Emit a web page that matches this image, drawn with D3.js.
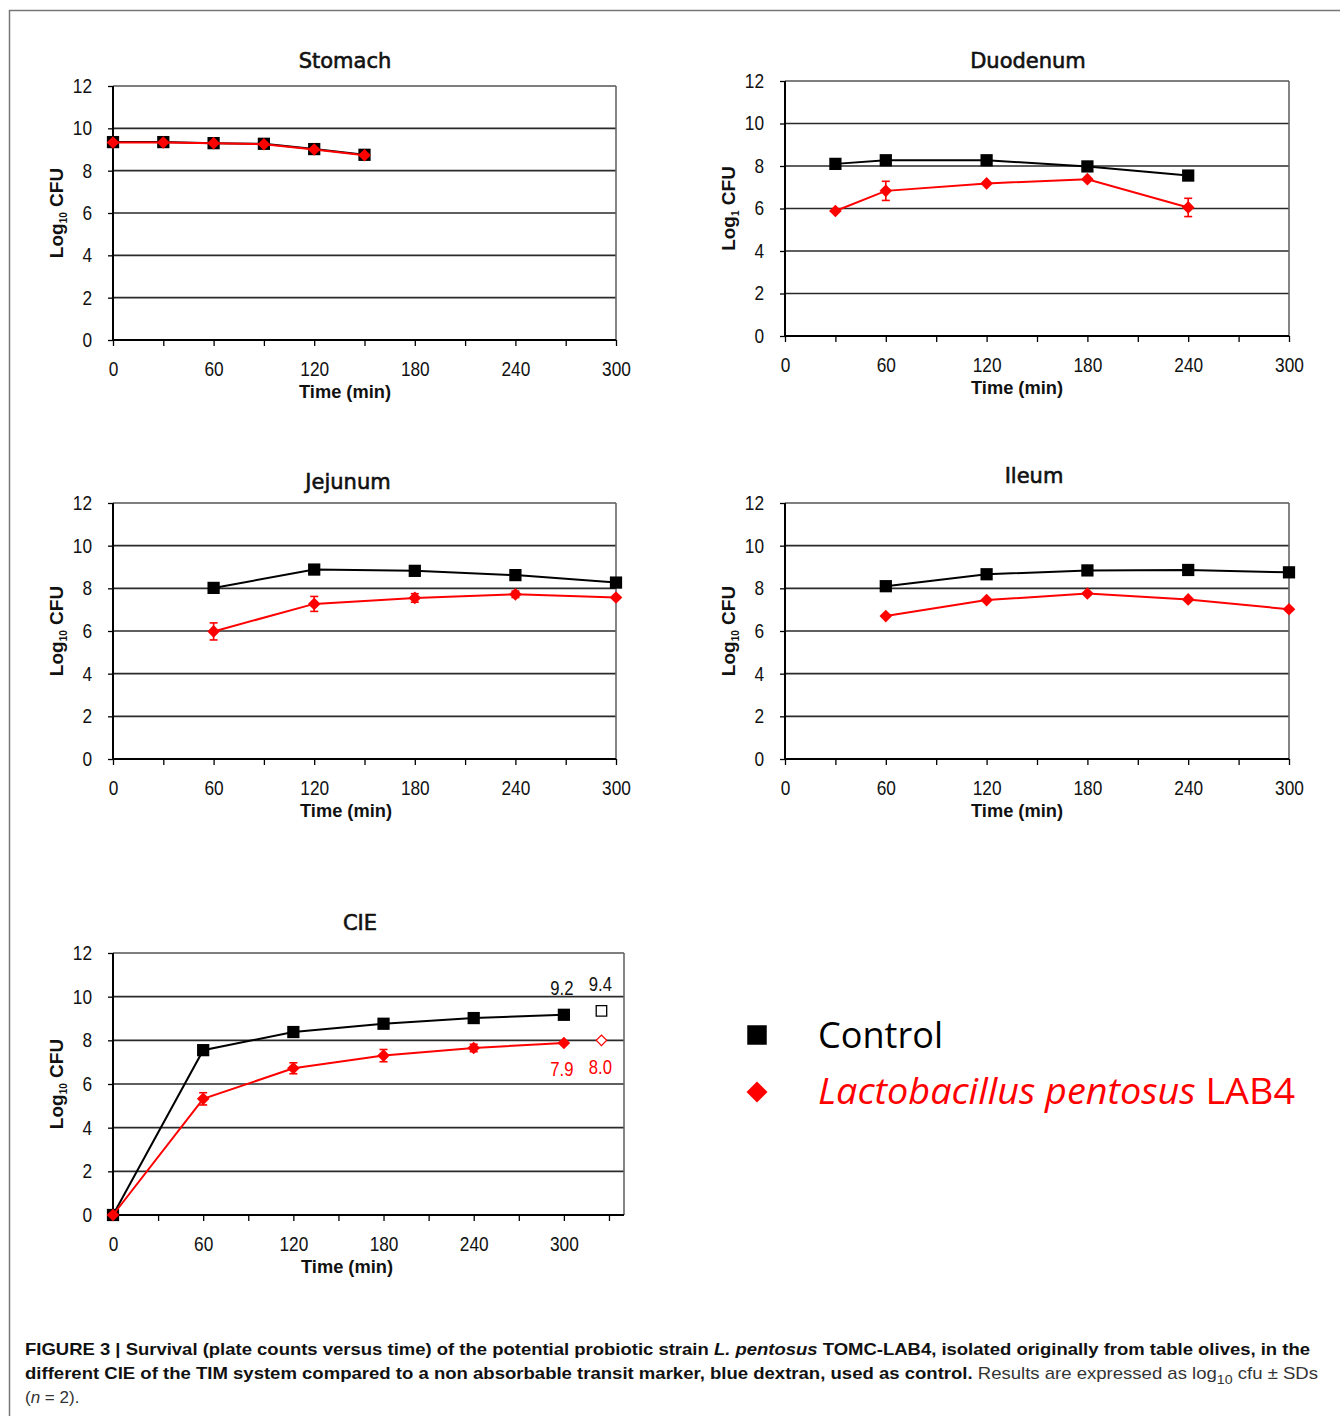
<!DOCTYPE html>
<html>
<head>
<meta charset="utf-8">
<script src="https://cdn.jsdelivr.net/npm/d3@7"></script>
<style>
  body { margin: 0; background: #fff; }
  svg { display: block; }
</style>
</head>
<body>
<script>
// values (log10 CFU vs time in min)
const stomachTime = [0, 30, 60, 90, 120, 150];
const stomachControl = [9.35, 9.35, 9.3, 9.27, 9.02, 8.75];
const stomachLab4 = [9.33, 9.33, 9.3, 9.25, 9.0, 8.73];
const stomachLab4Sd = [0.05, 0.05, 0.05, 0.05, 0.05, 0.05];

const duodenumTime = [30, 60, 120, 180, 240];
const duodenumControl = [8.1, 8.27, 8.27, 7.98, 7.55];
const duodenumLab4 = [5.88, 6.83, 7.18, 7.38, 6.05];
const duodenumLab4Sd = [0.05, 0.45, 0.08, 0.12, 0.43];

const jejunumTime = [60, 120, 180, 240, 300];
const jejunumControl = [8.02, 8.88, 8.82, 8.62, 8.27];
const jejunumLab4 = [5.98, 7.27, 7.55, 7.72, 7.57];
const jejunumLab4Sd = [0.4, 0.35, 0.2, 0.15, 0.05];

const ileumTime = [60, 120, 180, 240, 300];
const ileumControl = [8.1, 8.66, 8.84, 8.86, 8.75];
const ileumLab4 = [6.7, 7.45, 7.76, 7.48, 7.02];
const ileumLab4Sd = [0.05, 0.05, 0.08, 0.05, 0.05];

const cieTime = [0, 60, 120, 180, 240, 300];
const cieControl = [0, 7.55, 8.38, 8.76, 9.02, 9.17];
const cieLab4 = [0, 5.32, 6.72, 7.3, 7.65, 7.88];
const cieLab4Sd = [0, 0.28, 0.25, 0.28, 0.17, 0.1];

// final hollow points + printed values in CIE panel
const cieEndTime = 325;
const cieEndControl = 9.35;
const cieEndLab4 = 8.0;
const cieLabelsControl = ['9.2', '9.4'];
const cieLabelsLab4 = ['7.9', '8.0'];

const yTicks = [0, 2, 4, 6, 8, 10, 12];

const red = '#ff0000';
const sans = "'Liberation Sans', Arial, sans-serif";

const W = 1340, H = 1416;

const svg = d3.select('body').append('svg')
    .attr('width', W)
    .attr('height', H);

// outer frame (top + left edge visible)
svg.append('path')
    .attr('d', `M9.5,${H} V10.5 H${W}`)
    .attr('fill', 'none')
    .attr('stroke', '#777')
    .attr('stroke-width', 1.5);

const panels = [
    {title: 'Stomach', titleX: 345, titleY: 68, sub: '10', timeX: 345,
        left: 113, right: 616, top: 86, bottom: 340, xMax: 300,
        time: stomachTime, control: stomachControl, lab4: stomachLab4, sd: stomachLab4Sd},
    {title: 'Duodenum', titleX: 1028, titleY: 68, sub: '1', timeX: 1017,
        left: 785, right: 1289, top: 81, bottom: 336, xMax: 300,
        time: duodenumTime, control: duodenumControl, lab4: duodenumLab4, sd: duodenumLab4Sd},
    {title: 'Jejunum', titleX: 348, titleY: 489, sub: '10', timeX: 346,
        left: 113, right: 616, top: 503, bottom: 759, xMax: 300,
        time: jejunumTime, control: jejunumControl, lab4: jejunumLab4, sd: jejunumLab4Sd},
    {title: 'Ileum', titleX: 1034, titleY: 483, sub: '10', timeX: 1017,
        left: 785, right: 1289, top: 503, bottom: 759, xMax: 300,
        time: ileumTime, control: ileumControl, lab4: ileumLab4, sd: ileumLab4Sd},
    {title: 'CIE', titleX: 360, titleY: 930, sub: '10', timeX: 347,
        left: 113, right: 624, top: 953, bottom: 1215, xMax: 340, tickMax: 330,
        time: cieTime, control: cieControl, lab4: cieLab4, sd: cieLab4Sd}
];

const squareSym = d3.symbol(d3.symbolSquare, 150);
const diamondSym = d3.symbol(d3.symbolSquare, 80);

// narrow-looking numbers: squeeze each label to ~9.6px per character
function narrowText(sel, size) {
    sel.attr('font-family', sans)
        .attr('font-size', size)
        .each(function() {
            const t = d3.select(this).text();
            if (t) d3.select(this)
                .attr('textLength', t.replace('.', '').length * 9.6 + (t.includes('.') ? 4 : 0))
                .attr('lengthAdjust', 'spacingAndGlyphs');
        });
}

panels.forEach(drawPanel);

function drawPanel(p) {
    const x = d3.scaleLinear().domain([0, p.xMax]).range([p.left, p.right]);
    const y = d3.scaleLinear().domain([0, 12]).range([p.bottom, p.top]);
    const g = svg.append('g');

    // gridlines
    g.selectAll('line.grid')
        .data(yTicks.filter(d => d > 0))
        .join('line')
        .attr('class', 'grid')
        .attr('x1', p.left).attr('x2', p.right)
        .attr('y1', d => y(d)).attr('y2', d => y(d))
        .attr('stroke', d => d === 12 ? '#555' : '#2a2a2a')
        .attr('stroke-width', 1.7);

    // right border
    g.append('line')
        .attr('x1', p.right).attr('x2', p.right)
        .attr('y1', p.top).attr('y2', p.bottom)
        .attr('stroke', '#666')
        .attr('stroke-width', 1.6);

    // axes
    const yAxis = g.append('g')
        .attr('transform', `translate(${p.left},0)`)
        .call(d3.axisLeft(y).tickValues(yTicks).tickSize(5).tickPadding(16));

    const tickMax = p.tickMax || p.xMax;
    const xAxis = g.append('g')
        .attr('transform', `translate(0,${p.bottom})`)
        .call(d3.axisBottom(x)
            .tickValues(d3.range(0, tickMax + 1, 30))
            .tickFormat(d => (d % 60 === 0 && d <= 300) ? d : '')
            .tickSize(6)
            .tickPadding(16));

    [yAxis, xAxis].forEach(a => {
        a.select('.domain').attr('stroke', '#000').attr('stroke-width', 2);
        a.selectAll('.tick line').attr('stroke', '#000').attr('stroke-width', 1.3);
        a.selectAll('text').attr('fill', '#111').call(narrowText, 20);
    });
    xAxis.select('.domain').attr('d', `M${p.left},0H${p.right}`);
    yAxis.select('.domain').attr('d', `M0,${p.bottom}V${p.top}`);

    // titles
    g.append('text')
        .attr('x', p.titleX).attr('y', p.titleY)
        .attr('text-anchor', 'middle')
        .attr('font-family', 'DejaVu Sans, sans-serif')
        .attr('font-size', 21)
        .attr('fill', '#111')
        .attr('stroke', '#111')
        .attr('stroke-width', 0.6)
        .text(p.title);

    g.append('text')
        .attr('x', p.timeX)
        .attr('y', p.bottom + 58)
        .attr('text-anchor', 'middle')
        .attr('font-family', sans)
        .attr('font-size', 19)
        .attr('font-weight', 'bold')
        .attr('textLength', 92)
        .attr('lengthAdjust', 'spacingAndGlyphs')
        .attr('fill', '#111')
        .text('Time (min)');

    const ylab = g.append('text')
        .attr('transform', `translate(${p.left - 50},${(p.top + p.bottom) / 2}) rotate(-90)`)
        .attr('text-anchor', 'middle')
        .attr('font-family', sans)
        .attr('font-size', 19)
        .attr('font-weight', 'bold')
        .attr('fill', '#111');
    ylab.append('tspan').text('Log');
    ylab.append('tspan').attr('font-size', 10).attr('dy', 4).text(p.sub);
    ylab.append('tspan').attr('dy', -4).text(' CFU');

    const line = d3.line().x(d => x(d[0])).y(d => y(d[1]));
    const ctrl = p.time.map((t, i) => [t, p.control[i]]);
    const lab = p.time.map((t, i) => [t, p.lab4[i], p.sd[i]]);

    // control series
    g.append('path')
        .attr('d', line(ctrl))
        .attr('fill', 'none')
        .attr('stroke', '#000')
        .attr('stroke-width', 2);
    g.selectAll('path.sq')
        .data(ctrl)
        .join('path')
        .attr('class', 'sq')
        .attr('d', squareSym)
        .attr('transform', d => `translate(${x(d[0])},${y(d[1])})`)
        .attr('fill', '#000');

    // LAB4 series
    g.append('path')
        .attr('d', line(lab))
        .attr('fill', 'none')
        .attr('stroke', red)
        .attr('stroke-width', 2);

    const eb = g.selectAll('g.eb')
        .data(lab.filter(d => d[2] > 0.12))
        .join('g')
        .attr('class', 'eb')
        .attr('stroke', red)
        .attr('stroke-width', 1.6);
    eb.append('line')
        .attr('x1', d => x(d[0])).attr('x2', d => x(d[0]))
        .attr('y1', d => y(d[1] - d[2])).attr('y2', d => y(d[1] + d[2]));
    eb.append('line')
        .attr('x1', d => x(d[0]) - 4).attr('x2', d => x(d[0]) + 4)
        .attr('y1', d => y(d[1] - d[2])).attr('y2', d => y(d[1] - d[2]));
    eb.append('line')
        .attr('x1', d => x(d[0]) - 4).attr('x2', d => x(d[0]) + 4)
        .attr('y1', d => y(d[1] + d[2])).attr('y2', d => y(d[1] + d[2]));

    g.selectAll('path.dm')
        .data(lab)
        .join('path')
        .attr('class', 'dm')
        .attr('d', diamondSym)
        .attr('transform', d => `translate(${x(d[0])},${y(d[1])}) rotate(45)`)
        .attr('fill', red);

    if (p.title === 'CIE') {
        g.append('path')
            .attr('d', d3.symbol(d3.symbolSquare, 110)())
            .attr('transform', `translate(${x(cieEndTime)},${y(cieEndControl)})`)
            .attr('fill', '#fff')
            .attr('stroke', '#000')
            .attr('stroke-width', 1.3);
        g.append('path')
            .attr('d', d3.symbol(d3.symbolSquare, 55)())
            .attr('transform', `translate(${x(cieEndTime)},${y(cieEndLab4)}) rotate(45)`)
            .attr('fill', '#fff')
            .attr('stroke', red)
            .attr('stroke-width', 1.2);

        const lx = [x(300) - 2, x(cieEndTime) - 1];
        g.selectAll('text.lc')
            .data(cieLabelsControl)
            .join('text')
            .attr('class', 'lc')
            .attr('x', (d, i) => lx[i])
            .attr('y', (d, i) => i === 0 ? 995 : 991)
            .attr('text-anchor', 'middle')
            .attr('fill', '#111')
            .text(d => d)
            .call(narrowText, 20);
        g.selectAll('text.ll')
            .data(cieLabelsLab4)
            .join('text')
            .attr('class', 'll')
            .attr('x', (d, i) => lx[i])
            .attr('y', (d, i) => i === 0 ? 1076 : 1074)
            .attr('text-anchor', 'middle')
            .attr('fill', red)
            .text(d => d)
            .call(narrowText, 20);
    }
}

// legend
const legend = svg.append('g');
legend.append('path')
    .attr('d', d3.symbol(d3.symbolSquare, 380)())
    .attr('transform', 'translate(757,1035)')
    .attr('fill', '#000');
legend.append('path')
    .attr('d', d3.symbol(d3.symbolSquare, 220)())
    .attr('transform', 'translate(757,1092) rotate(45)')
    .attr('fill', red);
legend.append('text')
    .attr('x', 818).attr('y', 1048)
    .attr('font-family', "'Open Sans', sans-serif")
    .attr('font-size', 36)
    .attr('textLength', 125)
    .attr('lengthAdjust', 'spacingAndGlyphs')
    .attr('fill', '#000')
    .text('Control');
const lt = legend.append('text')
    .attr('x', 818).attr('y', 1104)
    .attr('font-family', "'Open Sans', sans-serif")
    .attr('font-size', 36)
    .attr('textLength', 477)
    .attr('lengthAdjust', 'spacingAndGlyphs')
    .attr('fill', red);
lt.append('tspan').attr('font-style', 'italic').text('Lactobacillus pentosus');
lt.append('tspan').text(' LAB4');

// caption
const cap = svg.append('g')
    .attr('font-family', sans)
    .attr('font-size', 17)
    .attr('fill', '#111');
const c1 = cap.append('text')
    .attr('x', 25).attr('y', 1355)
    .attr('font-weight', 'bold')
    .attr('textLength', 1285)
    .attr('lengthAdjust', 'spacingAndGlyphs');
c1.append('tspan').text('FIGURE 3 | Survival (plate counts versus time) of the potential probiotic strain ');
c1.append('tspan').attr('font-style', 'italic').text('L. pentosus');
c1.append('tspan').text(' TOMC-LAB4, isolated originally from table olives, in the');

const c2 = cap.append('text')
    .attr('x', 25).attr('y', 1379)
    .attr('textLength', 1293)
    .attr('lengthAdjust', 'spacingAndGlyphs');
c2.append('tspan').attr('font-weight', 'bold')
    .text('different CIE of the TIM system compared to a non absorbable transit marker, blue dextran, used as control.');
c2.append('tspan').attr('fill', '#333').text(' Results are expressed as log');
c2.append('tspan').attr('fill', '#333').attr('font-size', 13).attr('dy', 5).text('10');
c2.append('tspan').attr('fill', '#333').attr('dy', -5).text(' cfu \u00b1 SDs');

const c3 = cap.append('text')
    .attr('x', 25).attr('y', 1403)
    .attr('fill', '#333');
c3.append('tspan').text('(');
c3.append('tspan').attr('font-style', 'italic').text('n');
c3.append('tspan').text(' = 2).');
</script>
</body>
</html>
